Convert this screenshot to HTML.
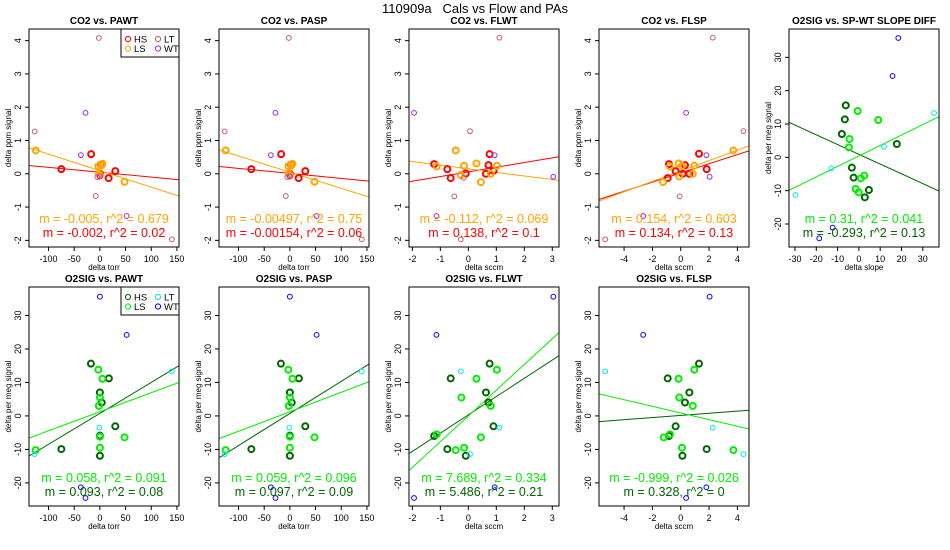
<!DOCTYPE html>
<html><head><meta charset="utf-8"><style>
body{margin:0;background:#fff}
svg{display:block;font-family:"Liberation Sans",sans-serif}
</style></head><body>
<svg id="c" width="950" height="550" xmlns="http://www.w3.org/2000/svg">
<text x="475" y="13" text-anchor="middle" font-size="13" xml:space="preserve" style="white-space:pre">110909a   Cals vs Flow and PAs</text>
</svg>
<script>
// ---------- data ----------
const p1HSx=[-17,-75,2,30,17,0], p1HSy=[0.59,0.14,0.27,0.08,-0.13,0.0];
const p1LSx=[-125,-3,5,48,-2,0,3], p1LSy=[0.7,0.23,0.3,-0.24,0.0,-0.05,0.25];
const p1LTx=[-127,-2,-8,140,-5], p1LTy=[1.27,4.08,-0.67,-1.97,-0.1];
const p1WTx=[-28,-37,52,0], p1WTy=[1.83,0.56,-1.27,-0.08];
const p1Lines=[[-138,0.25,154,-0.18],[-138,0.78,154,-0.67]];

const p2HSx=[-17,-75,2,30,17,0], p2HSy=[0.59,0.14,0.27,0.08,-0.13,0.0];
const p2LSx=[-125,-3,5,48,-2,0,3], p2LSy=[0.7,0.23,0.3,-0.24,0.0,-0.05,0.25];
const p2LTx=[-127,-2,-8,140,-5], p2LTy=[1.27,4.08,-0.67,-1.97,-0.1];
const p2WTx=[-28,-37,52,0], p2WTy=[1.83,0.56,-1.27,-0.08];
const p2Lines=[[-138,0.22,154,-0.22],[-138,0.72,154,-0.7]];

const p3HSx=[-1.22,-0.75,-0.63,-0.09,0.72,0.76,0.63,0.9], p3HSy=[0.29,0.14,-0.13,0.01,0.26,0.59,0.0,0.09];
const p3LSx=[-1.13,-0.45,-0.15,-0.27,0.29,0.45,0.8,1.02], p3LSy=[0.22,0.7,0.24,-0.04,0.31,-0.25,0.0,0.24];
const p3LTx=[1.11,0.06,-0.5,-0.27,-0.17], p3LTy=[4.09,1.28,-0.68,-1.97,-0.12];
const p3WTx=[-1.94,0.94,-1.14,3.04], p3WTy=[1.83,0.56,-1.27,-0.09];
const p3Lines=[[-2.12,-0.24,3.24,0.51],[-2.12,0.38,3.24,-0.2]];

const p4HSx=[-0.83,-0.92,-0.36,0.3,0.14,0.61,1.29,1.83], p4HSy=[0.29,-0.13,0.08,0.26,0.0,0.0,0.6,0.14];
const p4LSx=[-0.76,-1.25,-0.15,-0.1,0.09,0.85,0.96,3.72], p4LSy=[0.22,-0.25,0.31,-0.08,0.24,0.0,0.24,0.7];
const p4LTx=[2.26,4.43,-0.08,-5.33], p4LTy=[4.09,1.28,-0.68,-1.97];
const p4WTx=[0.38,1.81,-2.65,2.04], p4WTy=[1.83,0.56,-1.27,-0.09];
const p4Lines=[[-5.77,-0.77,4.82,0.69],[-5.77,-0.82,4.82,0.84]];

const p5HSx=[-6.15,-6.6,-8.0,-3.3,-2.5,4.7,2.8,17.8], p5HSy=[15.6,11.4,7.0,-3.1,-6.1,-9.8,-12.0,4.0];
const p5LSx=[-0.6,9.1,-4.4,-4.7,2.5,0.9,-1.5,-0.1], p5LSy=[13.9,11.2,5.5,3.0,-5.5,-6.3,-9.5,-10.5];
const p5LTx=[35.3,11.8,-13.0,-29.7], p5LTy=[13.3,3.2,-3.3,-11.3];
const p5WTx=[18.5,15.8,-12.3,-18.6], p5WTy=[35.8,24.4,-21.1,-24.3];
const p5Lines=[[-32.8,10.5,37.6,-10.1],[-32.8,-9.9,37.6,12.2]];

const p6HSx=[-17.5,-75,0,3.6,17.5,30,0,0], p6HSy=[15.6,-9.9,7.0,4.0,11.2,-3.1,-5.9,-11.9];
const p6LSx=[-3,5,0,-2,0,48,-125,0], p6LSy=[13.8,11.1,5.5,3.0,-9.5,-6.4,-10.2,-6.2];
const p6LTx=[140,-1,-127], p6LTy=[13.3,-3.5,-11.4];
const p6WTx=[0,52,-37,-28], p6WTy=[35.6,24.2,-21.3,-24.5];
const p6Lines=[[-138,-12.0,154,15.0],[-138,-6.6,154,10.0]];

const p7HSx=[-17.5,-75,0,3.6,17.5,30,0,0], p7HSy=[15.6,-9.9,7.0,4.0,11.2,-3.1,-5.9,-11.9];
const p7LSx=[-3,5,0,-2,0,48,-125,0], p7LSy=[13.8,11.1,5.5,3.0,-9.5,-6.4,-10.2,-6.2];
const p7LTx=[140,-1,-127], p7LTy=[13.3,-3.5,-11.4];
const p7WTx=[0,52,-37,-28], p7WTy=[35.6,24.2,-21.3,-24.5];
const p7Lines=[[-138,-12.5,154,15.5],[-138,-6.8,154,10.2]];

const p8HSx=[-1.22,-0.75,-0.63,-0.09,0.63,0.76,0.72,0.9], p8HSy=[-6.0,-9.9,11.2,-11.9,7.0,15.6,4.0,-3.1];
const p8LSx=[-1.13,-0.45,-0.25,-0.15,0.29,0.45,0.8,1.02], p8LSy=[-5.5,-10.2,5.5,-9.5,11.1,-6.4,3.0,13.8];
const p8LTx=[-0.27,1.11,0.06], p8LTy=[13.3,-3.5,-11.4];
const p8WTx=[3.04,-1.14,0.94,-1.94], p8WTy=[35.6,24.2,-21.3,-24.5];
const p8Lines=[[-2.12,-11.25,3.24,18.0],[-2.12,-16.3,3.24,24.9]];

const p9HSx=[1.29,-0.92,0.61,0.3,-0.36,-0.83,0.12,1.83], p9HSy=[15.6,11.2,7.0,4.0,-3.1,-6.0,-11.9,-9.9];
const p9LSx=[0.96,-0.15,-0.1,0.85,-0.76,-1.2,0.09,3.72], p9LSy=[13.8,11.1,5.5,3.0,-5.5,-6.4,-9.5,-10.2];
const p9LTx=[-5.33,2.26,4.43], p9LTy=[13.3,-3.5,-11.4];
const p9WTx=[2.04,-2.65,1.81,0.38], p9WTy=[35.6,24.2,-21.3,-24.5];
const p9Lines=[[-5.77,-1.7,4.82,1.7],[-5.77,6.6,4.82,-3.9]];

const titles=["CO2 vs. PAWT","CO2 vs. PASP","CO2 vs. FLWT","CO2 vs. FLSP","O2SIG vs. SP-WT SLOPE DIFF","O2SIG vs. PAWT","O2SIG vs. PASP","O2SIG vs. FLWT","O2SIG vs. FLSP"];
const statsA=["m = -0.005, r^2 = 0.679","m = -0.00497, r^2 = 0.75","m = -0.112, r^2 = 0.069","m = 0.154, r^2 = 0.603","m = 0.31, r^2 = 0.041","m = 0.058, r^2 = 0.091","m = 0.059, r^2 = 0.096","m = 7.689, r^2 = 0.334","m = -0.999, r^2 = 0.026"];
const statsB=["m = -0.002, r^2 = 0.02","m = -0.00154, r^2 = 0.06","m = 0.138, r^2 = 0.1","m = 0.134, r^2 = 0.13","m = -0.293, r^2 = 0.13","m = 0.093, r^2 = 0.08","m = 0.097, r^2 = 0.09","m = 5.486, r^2 = 0.21","m = 0.328, r^2 = 0"];
const torrTicks=[-100,-50,0,50,100,150], wtTicks=[-2,-1,0,1,2,3], spTicks=[-4,-2,0,2,4], slopeTicks=[-30,-20,-10,0,10,20,30];
const co2Ticks=[-2,-1,0,1,2,3,4], o2Ticks=[-20,-10,0,10,20,30];

// ---------- layout ----------
const NS="http://www.w3.org/2000/svg", svg=document.getElementById('c');
function mk(t,a,p){const e=document.createElementNS(NS,t);for(const k in a)e.setAttribute(k,a[k]);(p||svg).appendChild(e);return e;}
const TOP={y0:29,y1:247,ymin:-2.2,ymax:4.35,ticks:co2Ticks,lab:"delta ppm signal",c:["#ff0000","#ffa500","#cd5c5c","#a020f0"]};
const BOT={y0:287,y1:506,ymin:-26.9,ymax:38.5,ticks:o2Ticks,lab:"delta per meg signal",c:["#006400","#00ee00","#00e5ee","#0000ff"]};
const XT={xmin:-138,xmax:154,ticks:torrTicks,lab:"delta torr"},XW={xmin:-2.12,xmax:3.24,ticks:wtTicks,lab:"delta sccm"},
XS={xmin:-5.77,xmax:4.82,ticks:spTicks,lab:"delta sccm"},XD={xmin:-32.8,xmax:37.6,ticks:slopeTicks,lab:"delta slope"};
const panels=[
 [0,TOP,XT,[p1HSx,p1HSy,p1LSx,p1LSy,p1LTx,p1LTy,p1WTx,p1WTy],p1Lines,true],
 [1,TOP,XT,[p2HSx,p2HSy,p2LSx,p2LSy,p2LTx,p2LTy,p2WTx,p2WTy],p2Lines],
 [2,TOP,XW,[p3HSx,p3HSy,p3LSx,p3LSy,p3LTx,p3LTy,p3WTx,p3WTy],p3Lines],
 [3,TOP,XS,[p4HSx,p4HSy,p4LSx,p4LSy,p4LTx,p4LTy,p4WTx,p4WTy],p4Lines],
 [4,{...TOP,ymin:-26.9,ymax:38.5,ticks:o2Ticks,lab:"delta per meg signal",c:BOT.c},XD,[p5HSx,p5HSy,p5LSx,p5LSy,p5LTx,p5LTy,p5WTx,p5WTy],p5Lines],
 [0,BOT,XT,[p6HSx,p6HSy,p6LSx,p6LSy,p6LTx,p6LTy,p6WTx,p6WTy],p6Lines,true],
 [1,BOT,XT,[p7HSx,p7HSy,p7LSx,p7LSy,p7LTx,p7LTy,p7WTx,p7WTy],p7Lines],
 [2,BOT,XW,[p8HSx,p8HSy,p8LSx,p8LSy,p8LTx,p8LTy,p8WTx,p8WTy],p8Lines],
 [3,BOT,XS,[p9HSx,p9HSy,p9LSx,p9LSy,p9LTx,p9LTy,p9WTx,p9WTy],p9Lines]];

panels.forEach((P,i)=>{
 const [col,R,X,d,lines,leg]=P;
 const x0=29+190*col,x1=x0+150,y0=R.y0,y1=R.y1;
 const sx=v=>x0+(v-X.xmin)/(X.xmax-X.xmin)*(x1-x0);
 const sy=v=>y1-(v-R.ymin)/(R.ymax-R.ymin)*(y1-y0);
 const g=mk('g',{});
 
 
 const cx=(x0+x1)/2;
 const t=mk('text',{x:cx,y:y0-5,'text-anchor':'middle','font-size':10,'font-weight':'bold'},g);t.textContent=titles[i];
 
 const cp=mk('clipPath',{id:'cp'+i},g);mk('rect',{x:x0,y:y0,width:x1-x0,height:y1-y0},cp);
 const pg=mk('g',{'clip-path':'url(#cp'+i+')'},g);
 lines.forEach((L,k)=>{const l=mk('line',{x1:sx(L[0]),y1:sy(L[1]),x2:sx(L[2]),y2:sy(L[3]),stroke:R.c[k],'stroke-width':1},pg);
  });
 for(let s=0;s<4;s++){const xs=d[2*s],ys=d[2*s+1];
  xs.forEach((xv,j)=>{const c=mk('circle',{cx:sx(xv),cy:sy(ys[j]),r:s<2?3:2.4,fill:'none',stroke:R.c[s],'stroke-width':s<2?2:1},pg);
   });}
 mk('rect',{x:x0,y:y0,width:x1-x0,height:y1-y0,fill:'none',stroke:'#000','stroke-width':1},g);
 X.ticks.forEach(v=>{const x=sx(v);if(x<x0-1||x>x1+1)return;mk('line',{x1:x,y1:y1,x2:x,y2:y1+4,stroke:'#000'},g);
  const tt=mk('text',{x:x,y:y1+15,'text-anchor':'middle','font-size':9},g);tt.textContent=v;
  });
 R.ticks.forEach(v=>{const y=sy(v);mk('line',{x1:x0,y1:y,x2:x0-4,y2:y,stroke:'#000'},g);
  const tt=mk('text',{x:0,y:0,'text-anchor':'middle','font-size':9,transform:`translate(${x0-8},${y}) rotate(-90)`},g);tt.textContent=v;
  });
 const xl=mk('text',{x:cx,y:y1+23,'text-anchor':'middle','font-size':8},g);xl.textContent=X.lab;
 
 const yl=mk('text',{x:0,y:0,'text-anchor':'middle','font-size':8,transform:`translate(${x0-18},${(y0+y1)/2}) rotate(-90)`},g);yl.textContent=R.lab;
 
 const a=mk('text',{x:cx,y:y1-20,'text-anchor':'middle','font-size':12.5,fill:R.c[1]},g);a.textContent=statsA[i];
 a.setAttribute('y',y1-20);
 a.setAttribute('transform','translate(0,-4)');
 
 const b=mk('text',{x:cx,y:y1-6,'text-anchor':'middle','font-size':12.5,fill:R.c[0]},g);b.textContent=statsB[i];
 b.setAttribute('transform','translate(0,-4)');
 
 if(leg){const lg=mk('g',{},g);
  
  mk('rect',{x:x1-58,y:y0,width:58,height:28,fill:'#fff',stroke:'#000'},lg);
  ['HS','LS','LT','WT'].forEach((n,k)=>{const lx=x1-51+(k>1?30:0),ly=y0+10+(k%2)*9.5;
   mk('circle',{cx:lx,cy:ly,r:2.6,fill:'none',stroke:R.c[k],'stroke-width':1},lg);
   const tx=mk('text',{x:lx+6,y:ly+3.5,'font-size':9.5},lg);tx.textContent=n;
   });}
});
</script>
</body></html>
